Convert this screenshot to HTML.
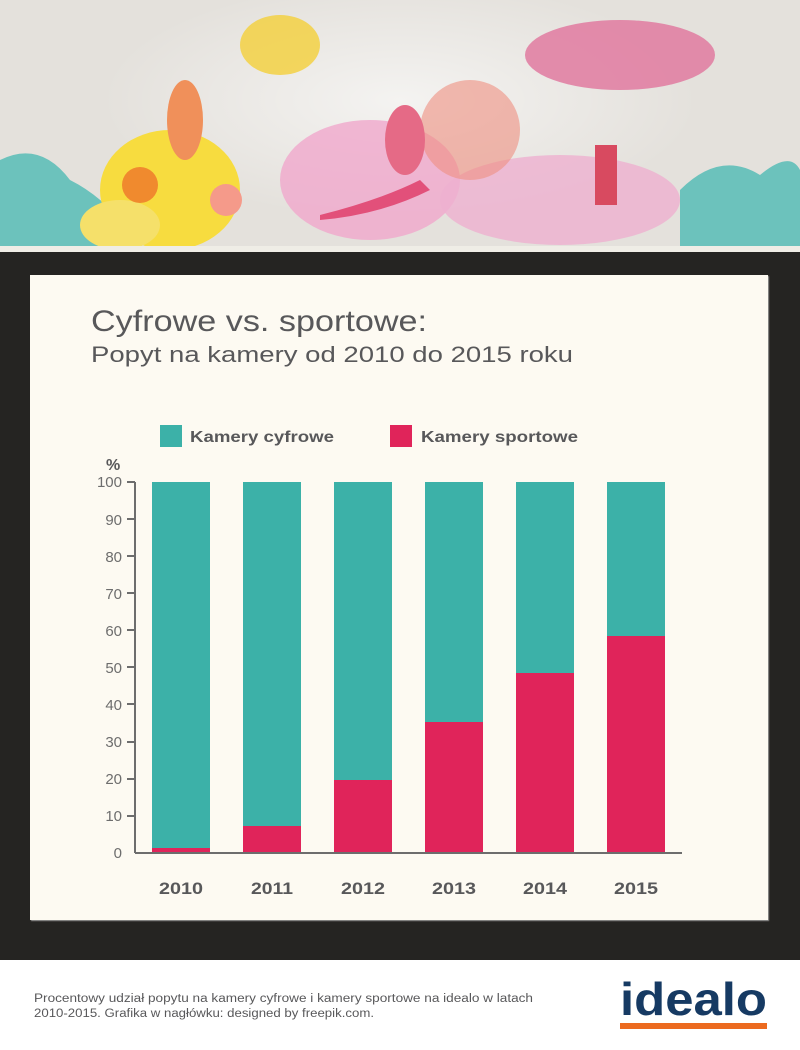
<!DOCTYPE html>
<html><head><meta charset="utf-8"><style>
*{margin:0;padding:0;box-sizing:border-box}
body{width:800px;height:1050px;position:relative;background:#fff;font-family:"Liberation Sans",sans-serif;overflow:hidden}
#hdr{position:absolute;left:0;top:0;width:800px;height:246px;background:#e6e3df}
#strip{position:absolute;left:0;top:246px;width:800px;height:6px;background:#efede6}
#dark{position:absolute;left:0;top:252px;width:800px;height:708px;background:#252422}
#card{position:absolute;left:30px;top:275px;width:738px;height:645px;background:#fdfaf2;box-shadow:1px 1px 1px #999}
</style></head><body>
<div id="hdr"><svg width="800" height="246">
<defs><radialGradient id="g"><stop offset="0" stop-color="#fff" stop-opacity=".6"/><stop offset="1" stop-color="#fff" stop-opacity="0"/></radialGradient></defs>
<rect width="800" height="246" fill="#e4e1dc"/>
<ellipse cx="400" cy="100" rx="300" ry="120" fill="url(#g)"/>
<path d="M0 160 Q40 140 70 180 Q110 200 140 246 H0Z" fill="#6cc2bc"/>
<path d="M680 190 Q720 150 760 175 Q790 150 800 170 V246 H680Z" fill="#6cc2bc"/>
<ellipse cx="170" cy="190" rx="70" ry="60" fill="#f7dc3f"/>
<ellipse cx="120" cy="225" rx="40" ry="25" fill="#f5e06a"/>
<ellipse cx="280" cy="45" rx="40" ry="30" fill="#f4cf3a" opacity=".8"/>
<ellipse cx="370" cy="180" rx="90" ry="60" fill="#f0a8cc" opacity=".8"/>
<ellipse cx="560" cy="200" rx="120" ry="45" fill="#eeb0cf" opacity=".8"/>
<ellipse cx="620" cy="55" rx="95" ry="35" fill="#e07aa0" opacity=".85"/>
<ellipse cx="470" cy="130" rx="50" ry="50" fill="#ee9080" opacity=".6"/>
<circle cx="140" cy="185" r="18" fill="#f08a2e"/>
<circle cx="226" cy="200" r="16" fill="#f59a8a"/>
<path d="M320 215 Q380 200 420 180 L430 190 Q380 215 320 220Z" fill="#e2507a"/>
<ellipse cx="405" cy="140" rx="20" ry="35" fill="#e56a86"/>
<ellipse cx="185" cy="120" rx="18" ry="40" fill="#f0905a"/>
<rect x="595" y="145" width="22" height="60" fill="#d84a60"/>
</svg></div>
<div id="strip"></div>
<div id="dark"></div>
<div id="card"></div>
<svg style="position:absolute;left:0;top:0" width="800" height="1050">
<g font-family="Liberation Sans,sans-serif">
<text x="91" y="331" font-size="30" fill="#58585a" textLength="336" lengthAdjust="spacingAndGlyphs">Cyfrowe vs. sportowe:</text>
<text x="91" y="362" font-size="22" fill="#58585a" textLength="482" lengthAdjust="spacingAndGlyphs">Popyt na kamery od 2010 do 2015 roku</text>
<rect x="160" y="425" width="22" height="22" fill="#3cb1a8"/>
<text x="190" y="442" font-size="16" fill="#58585a" font-weight="bold" textLength="144" lengthAdjust="spacingAndGlyphs">Kamery cyfrowe</text>
<rect x="390" y="425" width="22" height="22" fill="#e0245a"/>
<text x="421" y="442" font-size="16" fill="#58585a" font-weight="bold" textLength="157" lengthAdjust="spacingAndGlyphs">Kamery sportowe</text>
<text x="106" y="470" font-size="16" font-weight="bold" fill="#58585a">%</text>
<g stroke="#6d6d6d" stroke-width="2">
<line x1="135" y1="482" x2="135" y2="853"/>
<line x1="135" y1="853" x2="682" y2="853"/>
</g>
<g font-size="15" fill="#6d6d6d" text-anchor="end">
<text x="122" y="487">100</text><text x="122" y="525">90</text><text x="122" y="562">80</text><text x="122" y="599">70</text><text x="122" y="636">60</text><text x="122" y="673">50</text><text x="122" y="710">40</text><text x="122" y="747">30</text><text x="122" y="784">20</text><text x="122" y="821">10</text><text x="122" y="858">0</text>
</g>
<g stroke="#6d6d6d" stroke-width="2">
<line x1="127" y1="482" x2="135" y2="482"/><line x1="127" y1="519" x2="135" y2="519"/><line x1="127" y1="556" x2="135" y2="556"/><line x1="127" y1="593" x2="135" y2="593"/><line x1="127" y1="630" x2="135" y2="630"/><line x1="127" y1="667" x2="135" y2="667"/><line x1="127" y1="704" x2="135" y2="704"/><line x1="127" y1="742" x2="135" y2="742"/><line x1="127" y1="779" x2="135" y2="779"/><line x1="127" y1="816" x2="135" y2="816"/>
</g>
<g fill="#3cb1a8">
<rect x="152" y="482" width="58" height="370"/><rect x="243" y="482" width="58" height="370"/><rect x="334" y="482" width="58" height="370"/><rect x="425" y="482" width="58" height="370"/><rect x="516" y="482" width="58" height="370"/><rect x="607" y="482" width="58" height="370"/>
</g>
<g fill="#e0245a">
<rect x="152" y="848" width="58" height="4"/><rect x="243" y="826" width="58" height="26"/><rect x="334" y="780" width="58" height="72"/><rect x="425" y="722" width="58" height="130"/><rect x="516" y="673" width="58" height="179"/><rect x="607" y="636" width="58" height="216"/>
</g>
<g font-size="17" font-weight="bold" fill="#58585a" text-anchor="middle">
<text x="181" y="894" textLength="44" lengthAdjust="spacingAndGlyphs">2010</text><text x="272" y="894" textLength="42" lengthAdjust="spacingAndGlyphs">2011</text><text x="363" y="894" textLength="44" lengthAdjust="spacingAndGlyphs">2012</text><text x="454" y="894" textLength="44" lengthAdjust="spacingAndGlyphs">2013</text><text x="545" y="894" textLength="44" lengthAdjust="spacingAndGlyphs">2014</text><text x="636" y="894" textLength="44" lengthAdjust="spacingAndGlyphs">2015</text>
</g>
<text x="34" y="1002" font-size="11.5" fill="#58585a" textLength="499" lengthAdjust="spacingAndGlyphs">Procentowy udział popytu na kamery cyfrowe i kamery sportowe na idealo w latach</text>
<text x="34" y="1017" font-size="11.5" fill="#58585a" textLength="340" lengthAdjust="spacingAndGlyphs">2010-2015. Grafika w nagłówku: designed by freepik.com.</text>
<text x="620" y="1015" font-size="46" font-weight="bold" fill="#163a63" textLength="147" lengthAdjust="spacingAndGlyphs">idealo</text>
</g></svg>
<div style="position:absolute;left:620px;top:1023px;width:147px;height:6px;background:#ec6a1f"></div>
</body></html>
